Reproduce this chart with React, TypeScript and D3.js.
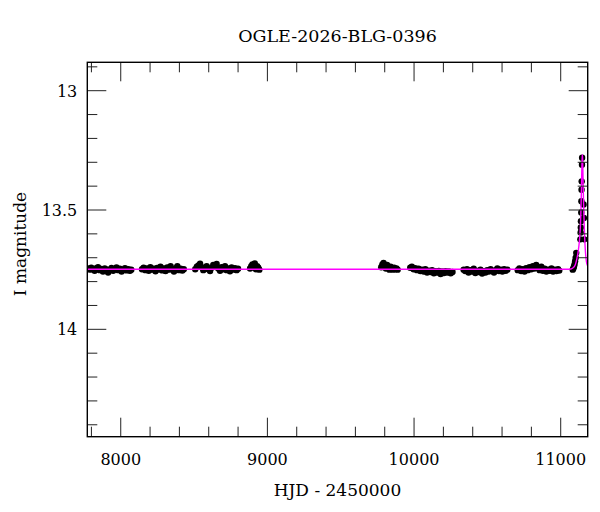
import { useRef, useEffect } from 'react';
import * as d3 from 'd3';

// [HJD - 2450000, I mag]
const season2017: [number, number][] = [
    [7776, 13.745], [7788, 13.75], [7799, 13.742], [7810, 13.748], [7822, 13.755], [7833, 13.744],
    [7845, 13.74], [7856, 13.752], [7868, 13.747], [7879, 13.758], [7891, 13.745], [7902, 13.749],
    [7914, 13.762], [7925, 13.75], [7937, 13.743], [7948, 13.755], [7960, 13.748], [7971, 13.741],
    [7983, 13.752], [7994, 13.746], [8006, 13.758], [8017, 13.75], [8029, 13.744], [8040, 13.753],
    [8052, 13.748], [8063, 13.755], [8072, 13.75],
];
const season2018: [number, number][] = [
    [8145, 13.748], [8156, 13.742], [8168, 13.752], [8179, 13.745], [8191, 13.755], [8202, 13.74],
    [8214, 13.75], [8225, 13.746], [8237, 13.757], [8248, 13.743], [8260, 13.749], [8271, 13.738],
    [8283, 13.753], [8294, 13.745], [8306, 13.756], [8317, 13.741], [8329, 13.75], [8340, 13.736],
    [8352, 13.747], [8363, 13.758], [8375, 13.744], [8386, 13.735], [8398, 13.752], [8409, 13.746],
    [8420, 13.754], [8430, 13.748],
];
const season2019: [number, number][] = [
    [8508, 13.748], [8519, 13.738], [8530, 13.732], [8541, 13.725], [8552, 13.74], [8563, 13.752],
    [8575, 13.745], [8586, 13.735], [8597, 13.748], [8609, 13.756], [8620, 13.742], [8631, 13.73],
    [8643, 13.738], [8654, 13.726], [8665, 13.745], [8677, 13.755], [8688, 13.74], [8699, 13.748],
    [8711, 13.736], [8722, 13.752], [8733, 13.745], [8745, 13.757], [8756, 13.741], [8767, 13.75],
    [8779, 13.744], [8790, 13.752], [8800, 13.746],
];
const season2020: [number, number][] = [
    [8882, 13.745], [8890, 13.735], [8898, 13.728], [8906, 13.74], [8914, 13.724], [8922, 13.748],
    [8930, 13.736], [8938, 13.742], [8945, 13.75],
];
const season2022: [number, number][] = [
    [9776, 13.74], [9784, 13.728], [9792, 13.722], [9800, 13.735], [9808, 13.745], [9816, 13.73],
    [9824, 13.742], [9832, 13.75], [9840, 13.738], [9848, 13.745], [9856, 13.75], [9864, 13.742],
    [9872, 13.748], [9880, 13.745], [9888, 13.75],
];
const season2023: [number, number][] = [
    [9974, 13.742], [9985, 13.738], [9997, 13.748], [10008, 13.744], [10020, 13.752], [10031, 13.746],
    [10043, 13.756], [10054, 13.75], [10066, 13.758], [10077, 13.748], [10089, 13.762], [10100, 13.754],
    [10112, 13.76], [10123, 13.752], [10135, 13.765], [10146, 13.756], [10158, 13.762], [10169, 13.755],
    [10181, 13.768], [10192, 13.758], [10204, 13.764], [10215, 13.756], [10227, 13.762], [10238, 13.758],
    [10250, 13.765], [10262, 13.76],
];
const season2024: [number, number][] = [
    [10338, 13.75], [10349, 13.756], [10361, 13.748], [10372, 13.762], [10384, 13.752], [10395, 13.758],
    [10407, 13.746], [10418, 13.764], [10430, 13.755], [10441, 13.76], [10453, 13.75], [10464, 13.766],
    [10476, 13.756], [10487, 13.762], [10499, 13.752], [10510, 13.758], [10522, 13.748], [10533, 13.756],
    [10545, 13.762], [10556, 13.752], [10568, 13.745], [10579, 13.756], [10591, 13.75], [10602, 13.758],
    [10614, 13.748], [10625, 13.755], [10636, 13.75],
];
const season2025: [number, number][] = [
    [10707, 13.752], [10718, 13.745], [10730, 13.756], [10741, 13.748], [10753, 13.758], [10764, 13.744],
    [10776, 13.752], [10787, 13.74], [10799, 13.748], [10810, 13.735], [10822, 13.745], [10833, 13.73],
    [10845, 13.742], [10856, 13.752], [10868, 13.738], [10879, 13.755], [10891, 13.746], [10902, 13.758],
    [10914, 13.75], [10925, 13.755], [10937, 13.745], [10948, 13.758], [10960, 13.75], [10971, 13.756],
    [10982, 13.748], [10990, 13.754],
];
const season2026: [number, number][] = [
    [11082, 13.75], [11086, 13.745], [11090, 13.738], [11094, 13.728], [11098, 13.715], [11102, 13.7],
    [11106, 13.68], [11134, 13.623], [11136, 13.594], [11137, 13.573], [11138, 13.547], [11140, 13.51],
    [11141, 13.463], [11142, 13.415], [11143, 13.38], [11145, 13.31], [11146, 13.281], [11156, 13.477],
    [11158, 13.533], [11161, 13.623],
];

// PSPL model
const modelCurve: [number, number][] = [
    [7772, 13.748], [11060, 13.748], [11085, 13.742], [11100, 13.728], [11110, 13.705], [11120, 13.67],
    [11128, 13.625], [11134, 13.57], [11138, 13.5], [11141, 13.42], [11143, 13.36], [11145, 13.3],
    [11147, 13.268], [11149, 13.28], [11151, 13.33], [11154, 13.42], [11158, 13.52], [11163, 13.61],
    [11168, 13.67], [11175, 13.715], [11184, 13.735],
];

const xMajorTicks = [8000, 9000, 10000, 11000];
const yMajorTicks = [13, 13.5, 14];
const yTickLabels = ['13', '13.5', '14'];

export default function App() {
    const svgRef = useRef<SVGSVGElement>(null);

    useEffect(() => {
        if (!svgRef.current) return;
        const width = 600;
        const height = 512;
        const margin = { top: 62.3, right: 12.3, bottom: 75.3, left: 87.3 };
        const font = '"DejaVu Serif", serif';

        d3.select(svgRef.current).selectAll('*').remove();
        const svg = d3.select(svgRef.current)
            .attr('width', width)
            .attr('height', height);

        const w = width - margin.left - margin.right;
        const h = height - margin.top - margin.bottom;

        const x = d3.scaleLinear().domain([7772, 11184]).range([0, w]);
        // magnitudes: brighter at top
        const y = d3.scaleLinear().domain([12.881, 14.45]).range([0, h]);

        svg.append('defs').append('clipPath')
            .attr('id', 'frame-clip')
            .append('rect')
            .attr('width', w)
            .attr('height', h);

        const g = svg.append('g')
            .attr('transform', `translate(${margin.left},${margin.top})`);

        const plot = g.append('g').attr('clip-path', 'url(#frame-clip)');

        const allPoints = [
            ...season2017, ...season2018, ...season2019, ...season2020,
            ...season2022, ...season2023, ...season2024, ...season2025, ...season2026,
        ];

        plot.selectAll('.dot')
            .data(allPoints)
            .enter()
            .append('circle')
            .attr('cx', d => x(d[0]))
            .attr('cy', d => y(d[1]))
            .attr('r', 3.2)
            .attr('fill', '#000');

        const line = d3.line<[number, number]>()
            .x(d => x(d[0]))
            .y(d => y(d[1]))
            .curve(d3.curveMonotoneX);

        plot.append('path')
            .datum(modelCurve)
            .attr('fill', 'none')
            .attr('stroke', '#ff00ff')
            .attr('stroke-width', 1.4)
            .attr('d', line);

        // Ticks on all four sides, pointing inward
        const xMinor = d3.range(7800, 11184, 200).filter(t => t % 1000 !== 0);
        const yMinor = d3.range(12.9, 14.45, 0.1).map(v => +v.toFixed(1)).filter(v => !yMajorTicks.includes(v));
        const tickColor = '#222';

        const ticks = g.append('g').attr('stroke', tickColor).attr('stroke-width', 1);
        const drawX = (vals: number[], len: number) => {
            vals.forEach(t => {
                ticks.append('line').attr('x1', x(t)).attr('x2', x(t)).attr('y1', h).attr('y2', h - len);
                ticks.append('line').attr('x1', x(t)).attr('x2', x(t)).attr('y1', 0).attr('y2', len);
            });
        };
        const drawY = (vals: number[], len: number) => {
            vals.forEach(v => {
                ticks.append('line').attr('x1', 0).attr('x2', len).attr('y1', y(v)).attr('y2', y(v));
                ticks.append('line').attr('x1', w).attr('x2', w - len).attr('y1', y(v)).attr('y2', y(v));
            });
        };
        drawX(xMajorTicks, 19);
        drawX(xMinor, 10);
        drawY(yMajorTicks, 19);
        drawY(yMinor, 10);

        // Frame
        g.append('rect')
            .attr('width', w)
            .attr('height', h)
            .attr('fill', 'none')
            .attr('stroke', '#000')
            .attr('stroke-width', 1.4);

        // Tick labels
        g.selectAll('.xlab')
            .data(xMajorTicks)
            .enter()
            .append('text')
            .attr('x', d => x(d))
            .attr('y', h + 28.5)
            .attr('text-anchor', 'middle')
            .style('font-family', font)
            .style('font-size', '16px')
            .text(d => String(d));

        g.selectAll('.ylab')
            .data(yMajorTicks)
            .enter()
            .append('text')
            .attr('x', -10)
            .attr('y', d => y(d) + 6)
            .attr('text-anchor', 'end')
            .style('font-family', font)
            .style('font-size', '16px')
            .text((d, i) => yTickLabels[i]);

        // Axis titles
        svg.append('text')
            .attr('x', margin.left + w / 2)
            .attr('y', 496)
            .attr('text-anchor', 'middle')
            .style('font-family', font)
            .style('font-size', '17px')
            .text('HJD - 2450000');

        svg.append('text')
            .attr('transform', `translate(26,244) rotate(-90)`)
            .attr('text-anchor', 'middle')
            .style('font-family', font)
            .style('font-size', '17px')
            .text('I magnitude');

        svg.append('text')
            .attr('x', margin.left + w / 2)
            .attr('y', 42)
            .attr('text-anchor', 'middle')
            .style('font-family', font)
            .style('font-size', '17.5px')
            .text('OGLE-2026-BLG-0396');
    }, []);

    return (
        <div style={{ position: 'absolute', left: 0, top: 0 }}>
            <svg ref={svgRef}></svg>
        </div>
    );
}
